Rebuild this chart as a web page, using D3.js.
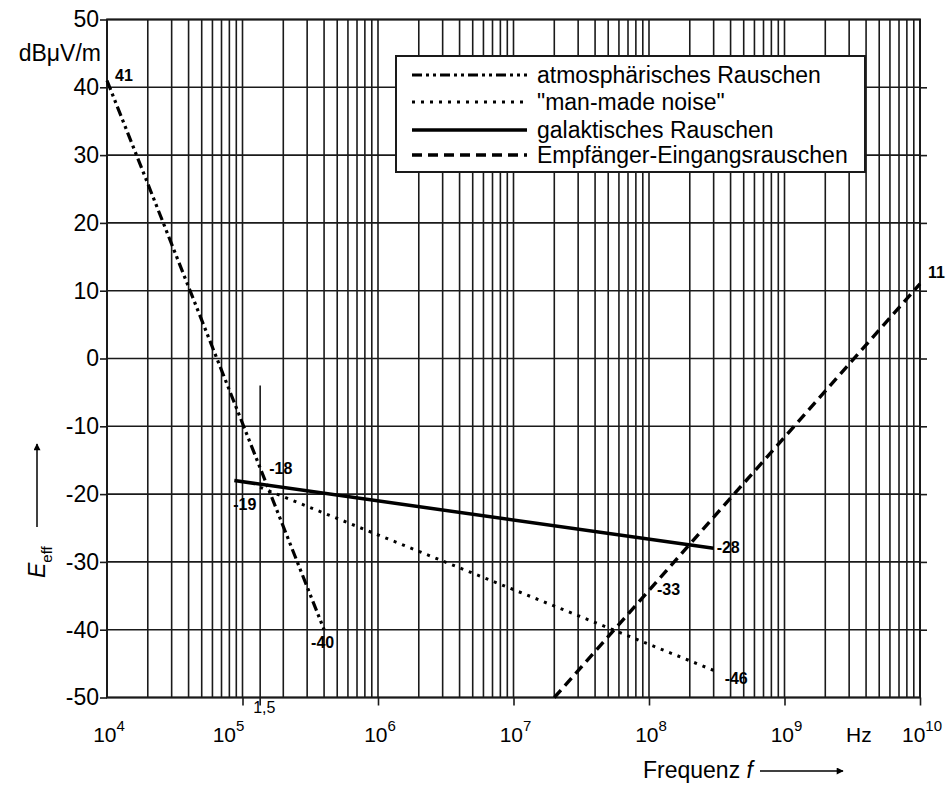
<!DOCTYPE html>
<html>
<head>
<meta charset="utf-8">
<script src="https://cdn.jsdelivr.net/npm/d3@7"></script>
<style>
  html, body { margin: 0; padding: 0; background: #fff; }
  svg { display: block; font-family: "Liberation Sans", Arial, sans-serif; }
</style>
</head>
<body>
<svg id="chart" width="952" height="786"></svg>
<script>
// ---------- data ----------
const yTickValues = [-50, -40, -30, -20, -10, 0, 10, 20, 30, 40, 50];
const xDecadeExponents = [4, 5, 6, 7, 8, 9, 10];

const atmosFreq = [1e4, 4e5];
const atmosLevel = [41, -40];

const manMadeFreq = [1.35e5, 3e8];
const manMadeLevel = [-19, -46];

const galacticFreq = [8.7e4, 3e8];
const galacticLevel = [-18, -28];

const receiverFreq = [2e7, 1e10];
const receiverLevel = [-50, 11];

const legendLabels = ["atmosphärisches Rauschen", "\"man-made noise\"", "galaktisches Rauschen", "Empfänger-Eingangsrauschen"];

// value annotations: [freq, level, text]
const annotFreq = [1e4, 1.35e5, 1.35e5, 4e5, 3e8, 1e8, 3e8, 1e10];
const annotLevel = [41, -18, -19, -40, -28, -33, -46, 11];
const annotText = ["41", "-18", "-19", "-40", "-28", "-33", "-46", "11"];

const markerFreq = 1.35e5;   // "1,5" marker line
const markerTop = -4;

// ---------- layout ----------
const svg = d3.select("#chart");
const x = d3.scaleLog().domain([1e4, 1e10]).range([107, 920]);
const y = d3.scaleLinear().domain([-50, 50]).range([697.5, 19.5]);
const ink = "#1a1a1a";

// grid
const gridG = svg.append("g");
gridG.selectAll("line.v").data(x.ticks()).join("line")
  .attr("x1", d => x(d)).attr("x2", d => x(d))
  .attr("y1", y(50)).attr("y2", y(-50))
  .attr("stroke", ink).attr("stroke-width", 1.6);
gridG.selectAll("line.h").data(yTickValues).join("line")
  .attr("x1", x(1e4)).attr("x2", x(1e10))
  .attr("y1", d => y(d)).attr("y2", d => y(d))
  .attr("stroke", ink).attr("stroke-width", 1.6);

// frame
svg.append("rect").attr("x", x(1e4)).attr("y", y(50))
  .attr("width", x(1e10) - x(1e4)).attr("height", y(-50) - y(50))
  .attr("fill", "none").attr("stroke", ink).attr("stroke-width", 2);

// y axis
const yAxis = svg.append("g").attr("transform", `translate(${x(1e4)},0)`)
  .call(d3.axisLeft(y).tickValues(yTickValues).tickSize(7).tickPadding(1));
yAxis.select(".domain").remove();
yAxis.selectAll(".tick line").attr("stroke", ink).attr("stroke-width", 1.6);
yAxis.selectAll(".tick text").attr("font-size", 23).attr("fill", "#000")
  .attr("font-family", "Liberation Sans, Arial, sans-serif")
  .text(d => String(d));

// right ticks
const yAxisR = svg.append("g").attr("transform", `translate(${x(1e10)},0)`)
  .call(d3.axisRight(y).tickValues(yTickValues.slice(1, -1)).tickSize(7).tickFormat(""));
yAxisR.select(".domain").remove();
yAxisR.selectAll(".tick line").attr("stroke", ink).attr("stroke-width", 1.6);

// x axis decade ticks
const decades = xDecadeExponents.map(e => Math.pow(10, e));
const xAxis = svg.append("g").attr("transform", `translate(0,${y(-50)})`)
  .call(d3.axisBottom(x).tickValues(decades.slice(1)).tickSize(8).tickFormat(""));
xAxis.select(".domain").remove();
xAxis.selectAll(".tick line").attr("stroke", ink).attr("stroke-width", 1.6);

// x labels
const xl = svg.append("g").attr("font-size", 21).attr("fill", "#000");
xDecadeExponents.forEach(e => {
  const px = x(Math.pow(10, e)) + (e === 5 ? -14 : 2);
  const t = xl.append("text").attr("x", px).attr("y", 742).attr("text-anchor", "middle");
  t.append("tspan").text("10");
  t.append("tspan").attr("dy", -11).attr("font-size", 15).text(String(e));
});
svg.append("text").attr("x", 846).attr("y", 742).attr("font-size", 21).text("Hz");

// 1,5 marker
svg.append("line").attr("x1", x(markerFreq)).attr("x2", x(markerFreq))
  .attr("y1", y(markerTop)).attr("y2", y(-50) + 8)
  .attr("stroke", ink).attr("stroke-width", 1.6);
svg.append("text").attr("x", x(markerFreq) - 7).attr("y", 713).attr("font-size", 16).text("1,5");

// unit
svg.append("text").attr("x", 101).attr("y", 61).attr("text-anchor", "end").attr("font-size", 23).text("dBμV/m");

// axis titles
const ft = svg.append("text").attr("x", 643).attr("y", 778).attr("font-size", 23);
ft.append("tspan").text("Frequenz ");
ft.append("tspan").attr("font-style", "italic").text("f");
svg.append("defs").append("marker").attr("id", "arr")
  .attr("viewBox", "0 0 10 10").attr("refX", 9).attr("refY", 5)
  .attr("markerWidth", 9).attr("markerHeight", 7).attr("markerUnits", "userSpaceOnUse")
  .attr("orient", "auto")
  .append("path").attr("d", "M0,0 L10,5 L0,10 Z").attr("fill", "#000");
svg.append("line").attr("x1", 760).attr("x2", 843).attr("y1", 771).attr("y2", 771)
  .attr("stroke", "#000").attr("stroke-width", 1.5).attr("marker-end", "url(#arr)");

const et = svg.append("text").attr("transform", "translate(45,578) rotate(-90)").attr("font-size", 23);
et.append("tspan").attr("font-style", "italic").text("E");
et.append("tspan").attr("dy", 7).attr("font-size", 15).text("eff");
svg.append("line").attr("x1", 37).attr("x2", 37).attr("y1", 527).attr("y2", 444)
  .attr("stroke", "#000").attr("stroke-width", 1.5).attr("marker-end", "url(#arr)");

// series
const styles = [
  { f: atmosFreq, v: atmosLevel, w: 3.2, dash: "10,4,3,4,3,4" },
  { f: manMadeFreq, v: manMadeLevel, w: 3, dash: "3,6" },
  { f: galacticFreq, v: galacticLevel, w: 3.5, dash: null },
  { f: receiverFreq, v: receiverLevel, w: 3.4, dash: "10,6" }
];
const lineGen = d3.line().x(d => x(d[0])).y(d => y(d[1]));
styles.forEach(s => {
  svg.append("path").datum(s.f.map((f, i) => [f, s.v[i]]))
    .attr("d", lineGen).attr("fill", "none").attr("stroke", "#000")
    .attr("stroke-width", s.w).attr("stroke-dasharray", s.dash);
});

// annotations
const annotOffsets = [[8, 0], [9, -7], [-27, 23], [-13, 18], [3, 5], [8, 13], [11, 14], [8, -6]];
annotText.forEach((t, i) => {
  svg.append("text").attr("x", x(annotFreq[i]) + annotOffsets[i][0]).attr("y", y(annotLevel[i]) + annotOffsets[i][1])
    .attr("font-size", 16).attr("font-weight", "bold").attr("fill", "#000").text(t);
});

// legend
const lg = svg.append("g");
lg.append("rect").attr("x", 396).attr("y", 56).attr("width", 469).attr("height", 116)
  .attr("fill", "#fff").attr("stroke", ink).attr("stroke-width", 2);
const rowY = [75, 102, 130, 155];
legendLabels.forEach((lab, i) => {
  lg.append("line").attr("x1", 412).attr("x2", 527).attr("y1", rowY[i]).attr("y2", rowY[i])
    .attr("stroke", "#000").attr("stroke-width", styles[i].w).attr("stroke-dasharray", styles[i].dash);
  lg.append("text").attr("x", 537).attr("y", rowY[i] + 8).attr("font-size", 23).text(lab);
});
</script>
</body>
</html>
